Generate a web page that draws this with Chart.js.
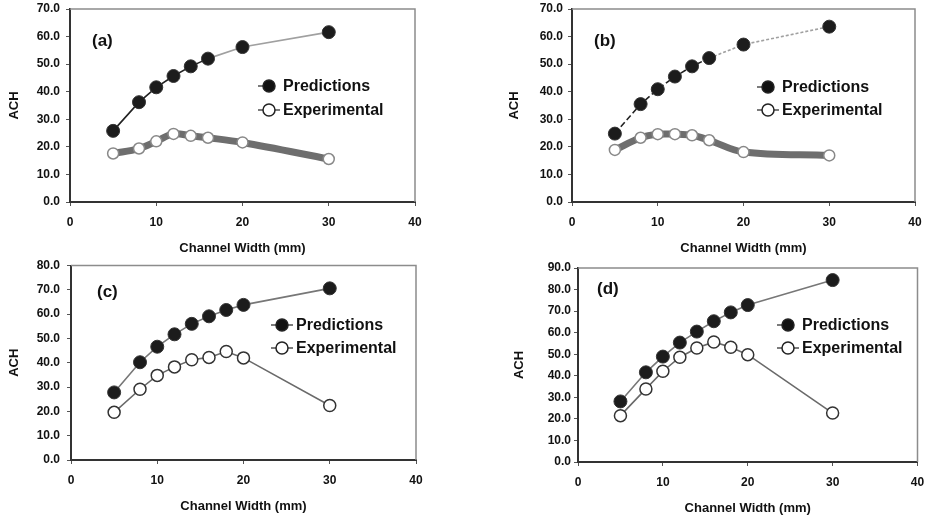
<!DOCTYPE html>
<html>
<head>
<meta charset="utf-8">
<title>ACH vs channel width</title>
<script src="https://cdn.jsdelivr.net/npm/chart.js@4.4.1/dist/chart.umd.min.js"></script>
<style>
  html, body { margin: 0; padding: 0; background: #fff; }
  #wrap { position: relative; width: 925px; height: 516px; overflow: hidden; }
  .panel { position: absolute; }
</style>
</head>
<body>
<div id="wrap">
  <div class="panel" style="left:0;top:0"><canvas id="chartA" width="462" height="258"></canvas></div>
  <div class="panel" style="left:462px;top:0"><canvas id="chartB" width="463" height="258"></canvas></div>
  <div class="panel" style="left:0;top:258px"><canvas id="chartC" width="462" height="258"></canvas></div>
  <div class="panel" style="left:462px;top:258px"><canvas id="chartD" width="463" height="258"></canvas></div>
</div>
<script>
// channel widths (mm)
const widthsAB = [5, 8, 10, 12, 14, 16, 20, 30];
const widthsCD = [5, 8, 10, 12, 14, 16, 18, 20, 30];

// ACH values
const predA = [25.8, 36.2, 41.6, 45.7, 49.2, 52.0, 56.2, 61.6];
const expA  = [17.6, 19.4, 22.0, 24.7, 24.0, 23.3, 21.6, 15.6];
const predB = [24.8, 35.5, 40.9, 45.5, 49.2, 52.2, 57.1, 63.6];
const expB  = [18.9, 23.3, 24.6, 24.6, 24.2, 22.4, 18.1, 16.9];
const predC = [27.8, 40.2, 46.6, 51.7, 56.0, 59.1, 61.7, 63.8, 70.6];
const expC  = [19.6, 29.1, 34.8, 38.3, 41.2, 42.2, 44.6, 42.0, 22.4];
const predD = [28.1, 41.6, 48.9, 55.4, 60.5, 65.3, 69.4, 72.8, 84.4];
const expD  = [21.5, 33.9, 42.1, 48.6, 52.9, 55.7, 53.2, 49.8, 22.7];

const seriesNames = ['Predictions', 'Experimental'];
const panelTags = ['(a)', '(b)', '(c)', '(d)'];
const xMax = 40;
const yMaxes = [70, 70, 80, 90];

Chart.defaults.font.family = '"Liberation Sans", Arial, sans-serif';
Chart.defaults.font.weight = 'bold';
Chart.defaults.font.size = 12;
Chart.defaults.color = '#111';

function toPoints(xs, ys) {
  return xs.map((x, i) => ({ x: x, y: ys[i] }));
}

// grey frame, panel letter and the in-plot legend
const panelDecor = {
  id: 'panelDecor',
  afterDraw(chart, args, opts) {
    const ctx = chart.ctx;
    const a = chart.chartArea;
    ctx.save();
    ctx.strokeStyle = '#8c8c8c';
    ctx.lineWidth = 1.5;
    ctx.beginPath();
    ctx.moveTo(a.left, a.top);
    ctx.lineTo(a.right, a.top);
    ctx.lineTo(a.right, a.bottom);
    ctx.stroke();

    ctx.fillStyle = '#111';
    ctx.textAlign = 'left';
    ctx.textBaseline = 'middle';
    ctx.font = 'bold 17px "Liberation Sans", Arial, sans-serif';
    ctx.fillText(opts.tag, opts.tagX, opts.tagY);

    chart.data.datasets.forEach((ds, i) => {
      const y = opts.legY + i * opts.legGap;
      const mx = opts.legX;
      ctx.strokeStyle = '#333';
      ctx.lineWidth = 1.3;
      ctx.beginPath();
      ctx.moveTo(mx - 11, y);
      ctx.lineTo(i === 0 && !opts.bothSides ? mx : mx + 11, y);
      ctx.stroke();
      ctx.beginPath();
      ctx.arc(mx, y, 6, 0, Math.PI * 2);
      ctx.fillStyle = i === 0 ? '#111' : '#fff';
      ctx.fill();
      ctx.lineWidth = 1.5;
      ctx.strokeStyle = '#222';
      ctx.stroke();
      ctx.fillStyle = '#111';
      ctx.font = 'bold 16px "Liberation Sans", Arial, sans-serif';
      ctx.fillText(ds.label, mx + 14, y + 1);
    });
    ctx.restore();
  }
};

function makePanel(id, idx, xs, pred, exp, box, thick) {
  const canvas = document.getElementById(id);
  const w = canvas.width, h = canvas.height;
  new Chart(canvas, {
    type: 'line',
    data: {
      datasets: [{
        label: seriesNames[0],
        data: toPoints(xs, pred),
        borderWidth: 1.6,
        borderColor: '#777',
        segment: thick ? {
          borderColor: c => c.p0.parsed.x >= 16 ? '#a0a0a0' : '#222',
          borderDash: c => c.p0.parsed.x >= 16 ? box.dashLate : box.dashEarly
        } : {},
        pointRadius: 6.5,
        pointBackgroundColor: '#1c1c1c',
        pointBorderColor: '#333',
        pointBorderWidth: 1,
        tension: 0
      }, {
        label: seriesNames[1],
        data: toPoints(xs, exp),
        borderWidth: thick ? 7 : 1.6,
        borderColor: thick ? '#6e6e6e' : '#6a6a6a',
        pointRadius: thick ? 5.5 : 6,
        pointBackgroundColor: '#fff',
        pointBorderColor: thick ? '#888' : '#333',
        pointBorderWidth: 1.5,
        tension: thick ? 0.35 : 0
      }]
    },
    options: {
      responsive: false,
      animation: false,
      events: [],
      layout: {
        padding: { left: 0, top: box.top, right: w - box.right, bottom: 0 }
      },
      plugins: {
        legend: { display: false },
        tooltip: { enabled: false },
        panelDecor: box.decor
      },
      scales: {
        x: {
          type: 'linear',
          min: 0,
          max: xMax,
          afterFit: s => { s.height = h - box.bottom; s.paddingLeft = 0; s.paddingRight = 0; },
          border: { display: true, color: '#333', width: 2 },
          grid: { display: true, drawOnChartArea: false, drawTicks: true, tickLength: 4, color: '#555' },
          ticks: { stepSize: 10, padding: 9, font: { size: 12, weight: 'bold' }, callback: v => String(v) },
          title: { display: true, text: 'Channel Width (mm)', padding: { top: 0, bottom: box.xTitlePad }, font: { size: 13, weight: 'bold' } }
        },
        y: {
          min: 0,
          max: yMaxes[idx],
          afterFit: s => { s.width = box.left; s.paddingTop = 0; s.paddingBottom = 0; },
          border: { display: true, color: '#333', width: 2 },
          grid: { display: true, drawOnChartArea: false, drawTicks: true, tickLength: 4, color: '#555' },
          ticks: { stepSize: 10, padding: box.yTickPad, font: { size: 12, weight: 'bold' }, callback: v => v.toFixed(1) },
          title: { display: true, text: 'ACH', padding: { top: box.yTitlePad, bottom: 0 }, font: { size: 13, weight: 'bold' } }
        }
      }
    },
    plugins: [panelDecor]
  });
}

makePanel('chartA', 0, widthsAB, predA, expA, {
  left: 70, right: 415, top: 9, bottom: 202, yTickPad: 6, yTitlePad: 7, xTitlePad: 2,
  dashEarly: [], dashLate: [],
  decor: { tag: panelTags[0], tagX: 92, tagY: 41, legX: 269, legY: 86, legGap: 24, bothSides: false }
}, true);

makePanel('chartB', 1, widthsAB, predB, expB, {
  left: 110, right: 453, top: 9, bottom: 202, yTickPad: 5, yTitlePad: 45, xTitlePad: 2,
  dashEarly: [6, 3], dashLate: [3, 2],
  decor: { tag: panelTags[1], tagX: 132, tagY: 41, legX: 306, legY: 87, legGap: 23, bothSides: false }
}, true);

makePanel('chartC', 2, widthsCD, predC, expC, {
  left: 71, right: 416, top: 7, bottom: 202, yTickPad: 7, yTitlePad: 7, xTitlePad: 2,
  decor: { tag: panelTags[2], tagX: 97, tagY: 34, legX: 282, legY: 67, legGap: 23, bothSides: true }
}, false);

makePanel('chartD', 3, widthsCD, predD, expD, {
  left: 116, right: 458, top: 10, bottom: 204, yTickPad: 3, yTitlePad: 50, xTitlePad: 0,
  decor: { tag: panelTags[3], tagX: 135, tagY: 31, legX: 326, legY: 67, legGap: 23, bothSides: false }
}, false);
</script>
</body>
</html>
